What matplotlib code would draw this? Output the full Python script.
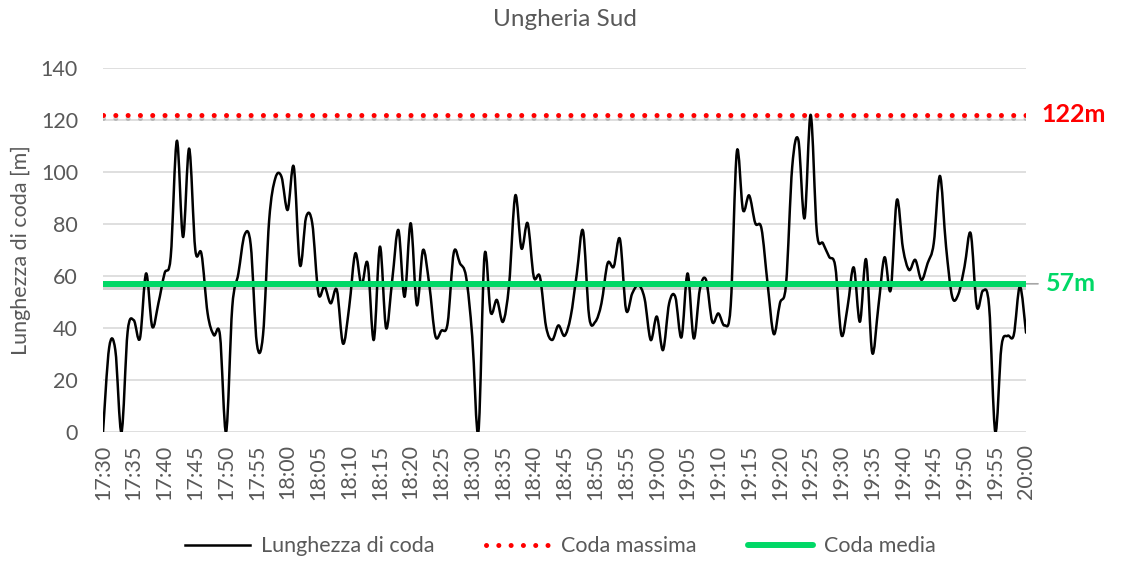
import numpy as np
import matplotlib
matplotlib.use("Agg")
import matplotlib.pyplot as plt
from matplotlib.path import Path
from matplotlib.patches import PathPatch
from matplotlib.lines import Line2D
import matplotlib.patheffects as pe

# queue length, one reading per minute from 17:30 to 20:00
queue = [
    0, 32.5, 31.5, 0, 38.6, 43, 36, 61, 40.5, 49.5,
    61, 67.4, 112, 75, 109, 70, 68.5, 45.6, 37.3, 37.3,
    0, 48, 61, 75.8, 72, 34, 37.3, 81.5, 97.6, 98.2,
    85.4, 102, 64.2, 82.6, 80.3, 53.3, 56, 49.5, 54.6, 34,
    48, 68.7, 56.4, 64.9, 35.4, 71.3, 40, 58.5, 77.7, 52,
    80.3, 48.8, 70, 57, 37, 39, 41.8, 69, 64.9, 59.7,
    36.7, 0, 68, 46, 50.8, 42.4, 57, 91, 70.6, 80.3,
    59.7, 59.7, 40.5, 35.4, 41, 37, 44.4, 61, 77.4, 44.4,
    42.4, 49.5, 64.9, 63.6, 74.2, 47, 53.3, 56.5, 51.4, 35.4,
    44.4, 31.5, 49.5, 52, 36.4, 61, 36, 55, 58.5, 42.4,
    45.6, 41, 48.5, 107.8, 85.4, 91, 80.3, 78.3, 57, 37.7,
    49.5, 57, 102, 112.3, 82.2, 122, 77, 72.6, 67.4, 63.6,
    37.3, 48.2, 63.3, 42.4, 66.4, 30.5, 48.2, 67.2, 54.6, 89.2,
    70.6, 62.3, 66.2, 58.5, 64.9, 72.6, 98.5, 71.3, 52, 53,
    63.6, 76.4, 48.2, 54.4, 48.2, 0, 32.8, 37, 37.3, 56,
    38.2,
]
max_queue = 122
mean_queue = 57
tick_labels = [
    "17:30", "17:35", "17:40", "17:45", "17:50", "17:55",
    "18:00", "18:05", "18:10", "18:15", "18:20", "18:25",
    "18:30", "18:35", "18:40", "18:45", "18:50", "18:55",
    "19:00", "19:05", "19:10", "19:15", "19:20", "19:25",
    "19:30", "19:35", "19:40", "19:45", "19:50", "19:55",
    "20:00",
]

GREY = "#595959"
GRID = "#d9d9d9"
RED = "#ff0000"
GREEN = "#00d866"

plt.rcParams["font.family"] = ["Lato", "DejaVu Sans"]

x = np.arange(len(queue), dtype=float)
y = np.array(queue, dtype=float)


def smooth_path(xs, ys):
    # excel-like smoothed line: catmull-rom segments as cubic beziers
    pts = np.column_stack([xs, ys])
    n = len(pts)
    verts = [pts[0]]
    codes = [Path.MOVETO]
    for i in range(n - 1):
        p0 = pts[i - 1] if i > 0 else pts[i]
        p1 = pts[i]
        p2 = pts[i + 1]
        p3 = pts[i + 2] if i + 2 < n else pts[i + 1]
        verts += [p1 + (p2 - p0) / 6, p2 - (p3 - p1) / 6, p2]
        codes += [Path.CURVE4] * 3
    return Path(verts, codes)


fig = plt.figure(figsize=(11.21, 5.65), dpi=100)
ax = fig.add_axes([0.0919, 0.2354, 0.8234, 0.6442])

ax.add_patch(PathPatch(smooth_path(x, y), facecolor="none", edgecolor="black",
                       lw=1.8, zorder=3, capstyle="round", joinstyle="round"))

shadow = [pe.SimpleLineShadow(offset=(0, -2.5), shadow_color="#000000", alpha=0.18), pe.Normal()]
ax.plot([x[0], x[-1]], [max_queue, max_queue], color=RED, lw=3.6,
        dashes=(0.01, 2.45), dash_capstyle="round", zorder=4, path_effects=shadow)
ax.plot([x[0], x[-1]], [mean_queue, mean_queue], color=GREEN, lw=4.3,
        solid_capstyle="butt", zorder=4, path_effects=shadow)

ax.set_xlim(x[0], x[-1])
ax.set_ylim(0, 140)
ax.set_yticks(np.arange(0, 141, 20))
ax.set_xticks(x[::5])
ax.set_xticklabels(tick_labels, rotation=90)
ax.tick_params(axis="both", length=0, labelsize=15.5, colors=GREY)
ax.tick_params(axis="x", pad=9)
ax.tick_params(axis="y", pad=18)
ax.grid(axis="y", color=GRID, lw=1.2)
ax.set_axisbelow(True)
for s in ax.spines.values():
    s.set_visible(False)

ax.set_title("Ungheria Sud", fontsize=17.5, color=GREY, pad=30)
ax.set_ylabel("Lunghezza di coda [m]", fontsize=15.5, color=GREY, labelpad=7)

ax.text(x[-1] + 2.5, max_queue, f"{max_queue}m", color=RED, fontsize=18,
        fontweight="bold", va="center", ha="left")
ax.annotate(f"{mean_queue}m", xy=(x[-1], mean_queue), xytext=(x[-1] + 3.3, mean_queue),
            color=GREEN, fontsize=18, fontweight="bold", va="center", ha="left",
            arrowprops=dict(arrowstyle="-", color="#a6a6a6", lw=1.2, shrinkA=4, shrinkB=0))

handles = [
    Line2D([], [], color="black", lw=1.8),
    Line2D([], [], color=RED, lw=3.6, dashes=(0.01, 2.45), dash_capstyle="round"),
    Line2D([], [], color=GREEN, lw=4.3, solid_capstyle="round"),
]
leg = fig.legend(handles, ["Lunghezza di coda", "Coda massima", "Coda media"],
                 loc="center", bbox_to_anchor=(0.5, 0.033), ncol=3, frameon=False,
                 fontsize=15.5, handlelength=3.0, columnspacing=2.4, handletextpad=0.5)
for t in leg.get_texts():
    t.set_color(GREY)

fig.savefig("out.png", dpi=100)
